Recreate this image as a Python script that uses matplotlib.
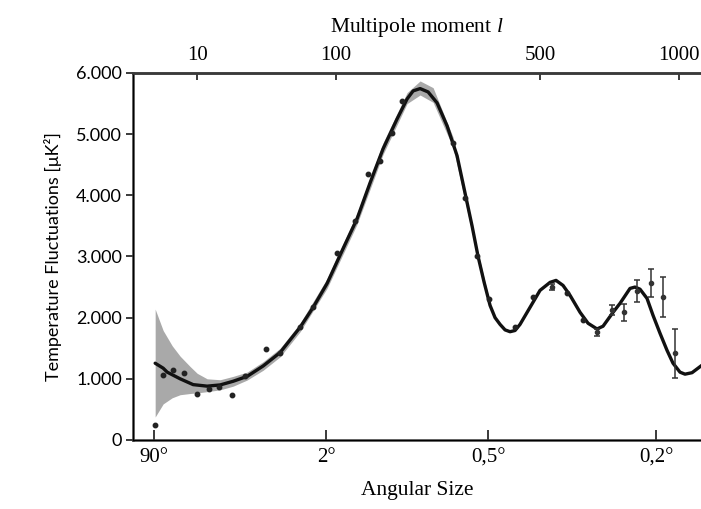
import numpy as np
import matplotlib
matplotlib.use('Agg')
import matplotlib.pyplot as plt

plt.rcParams['mathtext.fontset'] = 'custom'
plt.rcParams['mathtext.it'] = 'Liberation Serif:italic'
plt.rcParams['mathtext.rm'] = 'Liberation Serif'

# horizontal position on the drawn axis (0 = left spine, 100 = right edge)
curve_x = [3.87, 5.28, 5.99, 8.27, 10.56, 13.03, 15.32, 17.61, 20.07, 22.89,
           25.88, 29.40, 31.69, 34.15, 36.97, 39.44, 41.73, 44.01, 46.48, 48.24,
           49.30, 50.53, 51.94, 53.52, 55.28, 57.04, 58.45, 59.68, 60.74, 61.80,
           62.85, 63.73, 64.61, 65.49, 66.37, 67.25, 68.13, 69.89, 71.65, 73.42,
           74.47, 75.70, 76.94, 78.70, 80.11, 81.69, 82.75, 84.51, 85.74, 87.50,
           88.38, 89.26, 90.49, 91.55, 92.78, 94.01, 95.07, 96.30, 97.18, 98.42,
           100.18]
curve_y = [1255, 1174, 1109, 1000, 905, 880, 900, 960, 1040, 1210,
           1430, 1843, 2168, 2560, 3130, 3620, 4207, 4761, 5250, 5576,
           5707, 5745, 5690, 5511, 5136, 4647, 4035, 3500, 3000, 2580,
           2200, 2000, 1890, 1800, 1770, 1790, 1890, 2168, 2446, 2577,
           2609, 2527, 2364, 2087, 1908, 1815, 1860, 2087, 2234, 2478,
           2500, 2465, 2315, 2038, 1745, 1467, 1255, 1109, 1076, 1100,
           1223]

band_x = [3.87, 5.28, 6.87, 8.27, 10.04, 11.27, 13.03, 15.32, 17.61, 20.07,
          22.89, 25.88, 29.40, 34.15, 39.44, 44.01, 48.24, 50.53, 52.82,
          56.34, 60.74, 62.85]
band_lo = [375, 590, 690, 740, 760, 770, 790, 820, 880, 980,
           1140, 1360, 1770, 2480, 3530, 4670, 5500, 5640, 5520,
           4780, 2940, 2160]
band_hi = [2140, 1790, 1540, 1370, 1200, 1090, 1000, 985, 1040, 1110,
           1280, 1500, 1910, 2640, 3710, 4860, 5680, 5870, 5760,
           4950, 3060, 2240]

dots_x = [3.87, 5.28, 7.04, 8.98, 11.27, 13.38, 15.14, 17.43, 19.72, 23.42,
          25.88, 29.40, 31.69, 35.92, 39.08, 41.37, 43.49, 45.60, 47.36, 56.34,
          58.45, 60.56, 62.68, 67.25, 70.42, 76.41, 79.23]
dots_y = [245, 1060, 1141, 1092, 750, 832, 864, 734, 1044, 1484,
          1420, 1850, 2170, 3049, 3587, 4353, 4565, 5022, 5544, 4859,
          3962, 3000, 2299, 1843, 2332, 2397, 1957]

err_x = [73.77, 81.69, 84.33, 86.44, 88.73, 91.20, 93.31, 95.42]
err_y = [2495, 1761, 2120, 2087, 2430, 2560, 2332, 1418]
err_e = [50, 60, 80, 135, 180, 230, 325, 400]

yticks = [0, 1000, 2000, 3000, 4000, 5000, 6000]
angle_pos = [3.70, 33.98, 62.50, 92.08]
angle_labels = ['90°', '2°', '0,5°', '0,2°']
multipole_pos = [11.27, 35.74, 71.65, 96.13]
multipole_labels = ['10', '100', '500', '1000']

serif = ['Liberation Serif', 'DejaVu Serif']
sans = ['Lato', 'DejaVu Sans']

fig = plt.figure(figsize=(7.01, 5.09), dpi=100)
ax = fig.add_axes([0.190, 0.1356, 0.810, 0.721])

ax.fill_between(band_x, band_lo, band_hi, color='#a9a9a9', lw=0, zorder=1)
ax.plot(curve_x, curve_y, color='#111111', lw=2.4, solid_joinstyle='round',
        solid_capstyle='round', zorder=3)
ax.plot(dots_x, dots_y, 'o', color='#222222', ms=3.2, zorder=4)
ax.errorbar(err_x, err_y, yerr=err_e, fmt='o', color='#333333', ms=3,
            elinewidth=1.1, capsize=2.5, capthick=1.1, zorder=4)

ax.set_xlim(0, 100)
ax.set_ylim(0, 6000)

spine_c = '#3a3a3a'
for s in ['left', 'bottom', 'top']:
    ax.spines[s].set_color(spine_c)
    ax.spines[s].set_linewidth(1.8)
ax.spines['right'].set_visible(False)

ax.set_yticks(yticks)
ax.set_yticklabels([f'{v:,}'.replace(',', '.') for v in yticks],
                   family=sans, fontsize=13)
ax.tick_params(axis='y', direction='out', length=5, width=1.4, color=spine_c, pad=3)

ax.set_xticks(angle_pos)
ax.set_xticklabels(angle_labels, family=serif, fontsize=15)
ax.tick_params(axis='x', direction='in', length=7, width=1.4, color=spine_c, pad=6)

ax2 = ax.twiny()
ax2.set_xlim(ax.get_xlim())
ax2.spines['right'].set_visible(False)
ax2.spines['top'].set_color(spine_c)
ax2.spines['top'].set_linewidth(1.8)
ax2.set_xticks(multipole_pos)
ax2.set_xticklabels(multipole_labels, family=serif, fontsize=15)
ax2.tick_params(axis='x', direction='in', length=5, width=1.4, color=spine_c, pad=6)

ax.set_xlabel('Angular Size', family=serif, fontsize=15.5, labelpad=10)
ax2.set_xlabel('Multipole moment $l$', family=serif, fontsize=15.5, labelpad=10)
ax.set_ylabel('Temperature Fluctuations [μK²]', family=sans, fontsize=13, labelpad=10)

fig.savefig('out.png', dpi=100)
